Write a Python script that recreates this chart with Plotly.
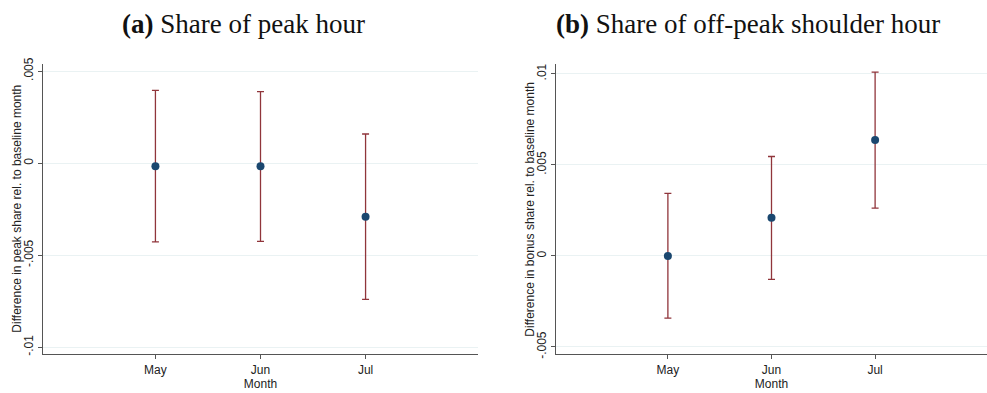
import plotly.graph_objects as go

# Month coefficients with 95% confidence bounds
months = ["May", "Jun", "Jul"]
month_pos = [5, 6, 7]

peak_coef = [-0.00017, -0.00017, -0.00291]
peak_upper = [0.00395, 0.00388, 0.00158]
peak_lower = [-0.00428, -0.00425, -0.00740]

shoulder_coef = [0.0, 0.00210, 0.00637]
shoulder_upper = [0.00344, 0.00546, 0.01010]
shoulder_lower = [-0.00342, -0.00129, 0.00263]

peak_ticks = [-0.01, -0.005, 0, 0.005]
peak_ticktext = ["-.01", "-.005", "0", ".005"]
shoulder_ticks = [-0.005, 0, 0.005, 0.01]
shoulder_ticktext = ["-.005", "0", ".005", ".01"]

W, H = 987, 393
MARKER = "#1a476f"
CI = "#90353b"
GRID = "#eaf2f3"
AXIS = "#555555"

fig = go.Figure()


def add_panel(coef, upper, lower, xa, ya):
    fig.add_trace(go.Scatter(
        x=month_pos, y=coef, mode="markers",
        marker=dict(color=MARKER, size=8),
        error_y=dict(
            type="data", symmetric=False,
            array=[u - c for u, c in zip(upper, coef)],
            arrayminus=[c - l for c, l in zip(coef, lower)],
            color=CI, thickness=1.3, width=3.5,
        ),
        xaxis=xa, yaxis=ya, showlegend=False, hoverinfo="skip",
    ))


add_panel(peak_coef, peak_upper, peak_lower, "x", "y")
add_panel(shoulder_coef, shoulder_upper, shoulder_lower, "x2", "y2")

y_dom = [1 - 358 / H, 1 - 59 / H]
tick_font = dict(family="Liberation Sans, Arial, sans-serif", size=12, color="#222")

xcommon = dict(
    tickvals=month_pos, ticktext=months, range=[3.93, 8.07],
    showgrid=False, zeroline=False, showline=True, linecolor=AXIS, linewidth=1.2,
    ticks="outside", ticklen=4, tickcolor=AXIS, tickfont=tick_font,
    title=dict(text="Month", font=tick_font, standoff=0),
)
ycommon = dict(
    showgrid=True, gridcolor=GRID, gridwidth=1.2, zeroline=False,
    showline=True, linecolor=AXIS, linewidth=1.2,
    ticks="outside", ticklen=4, tickcolor=AXIS, tickfont=tick_font,
    tickangle=-90,
)

fig.update_layout(
    width=W, height=H,
    margin=dict(l=0, r=0, t=0, b=0),
    paper_bgcolor="white", plot_bgcolor="white",
    xaxis=dict(domain=[43 / W, 478 / W], anchor="y", **xcommon),
    xaxis2=dict(domain=[556 / W, 1.0], anchor="y2", **{**xcommon, "range": [3.92, 8.08]}),
    yaxis=dict(domain=y_dom, anchor="x", range=[-0.01037, 0.00537],
               tickvals=peak_ticks, ticktext=peak_ticktext, **ycommon),
    yaxis2=dict(domain=y_dom, anchor="x2", range=[-0.00539, 0.01053],
                tickvals=shoulder_ticks, ticktext=shoulder_ticktext, **ycommon),
)

# Vertical y-axis titles, centred on each plot area
y_mid = (y_dom[0] + y_dom[1]) / 2
for x_px, label in [(17.5, "Difference in peak share rel. to baseline month"),
                    (530.5, "Difference in bonus share rel. to baseline month")]:
    fig.add_annotation(text=label, textangle=-90, x=x_px / W, y=y_mid,
                       xref="paper", yref="paper", showarrow=False, font=tick_font,
                       xanchor="center", yanchor="middle")

title_font = dict(family="Liberation Serif, DejaVu Serif, serif", size=27, color="#111")
fig.add_annotation(text="<b>(a)</b> Share of peak hour", x=243 / W, y=1 - 18 / H,
                   xref="paper", yref="paper", showarrow=False, font=title_font,
                   xanchor="center", yanchor="middle")
fig.add_annotation(text="<b>(b)</b> Share of off-peak shoulder hour", x=748 / W, y=1 - 18 / H,
                   xref="paper", yref="paper", showarrow=False, font=title_font,
                   xanchor="center", yanchor="middle")

fig.write_html("out.html")
